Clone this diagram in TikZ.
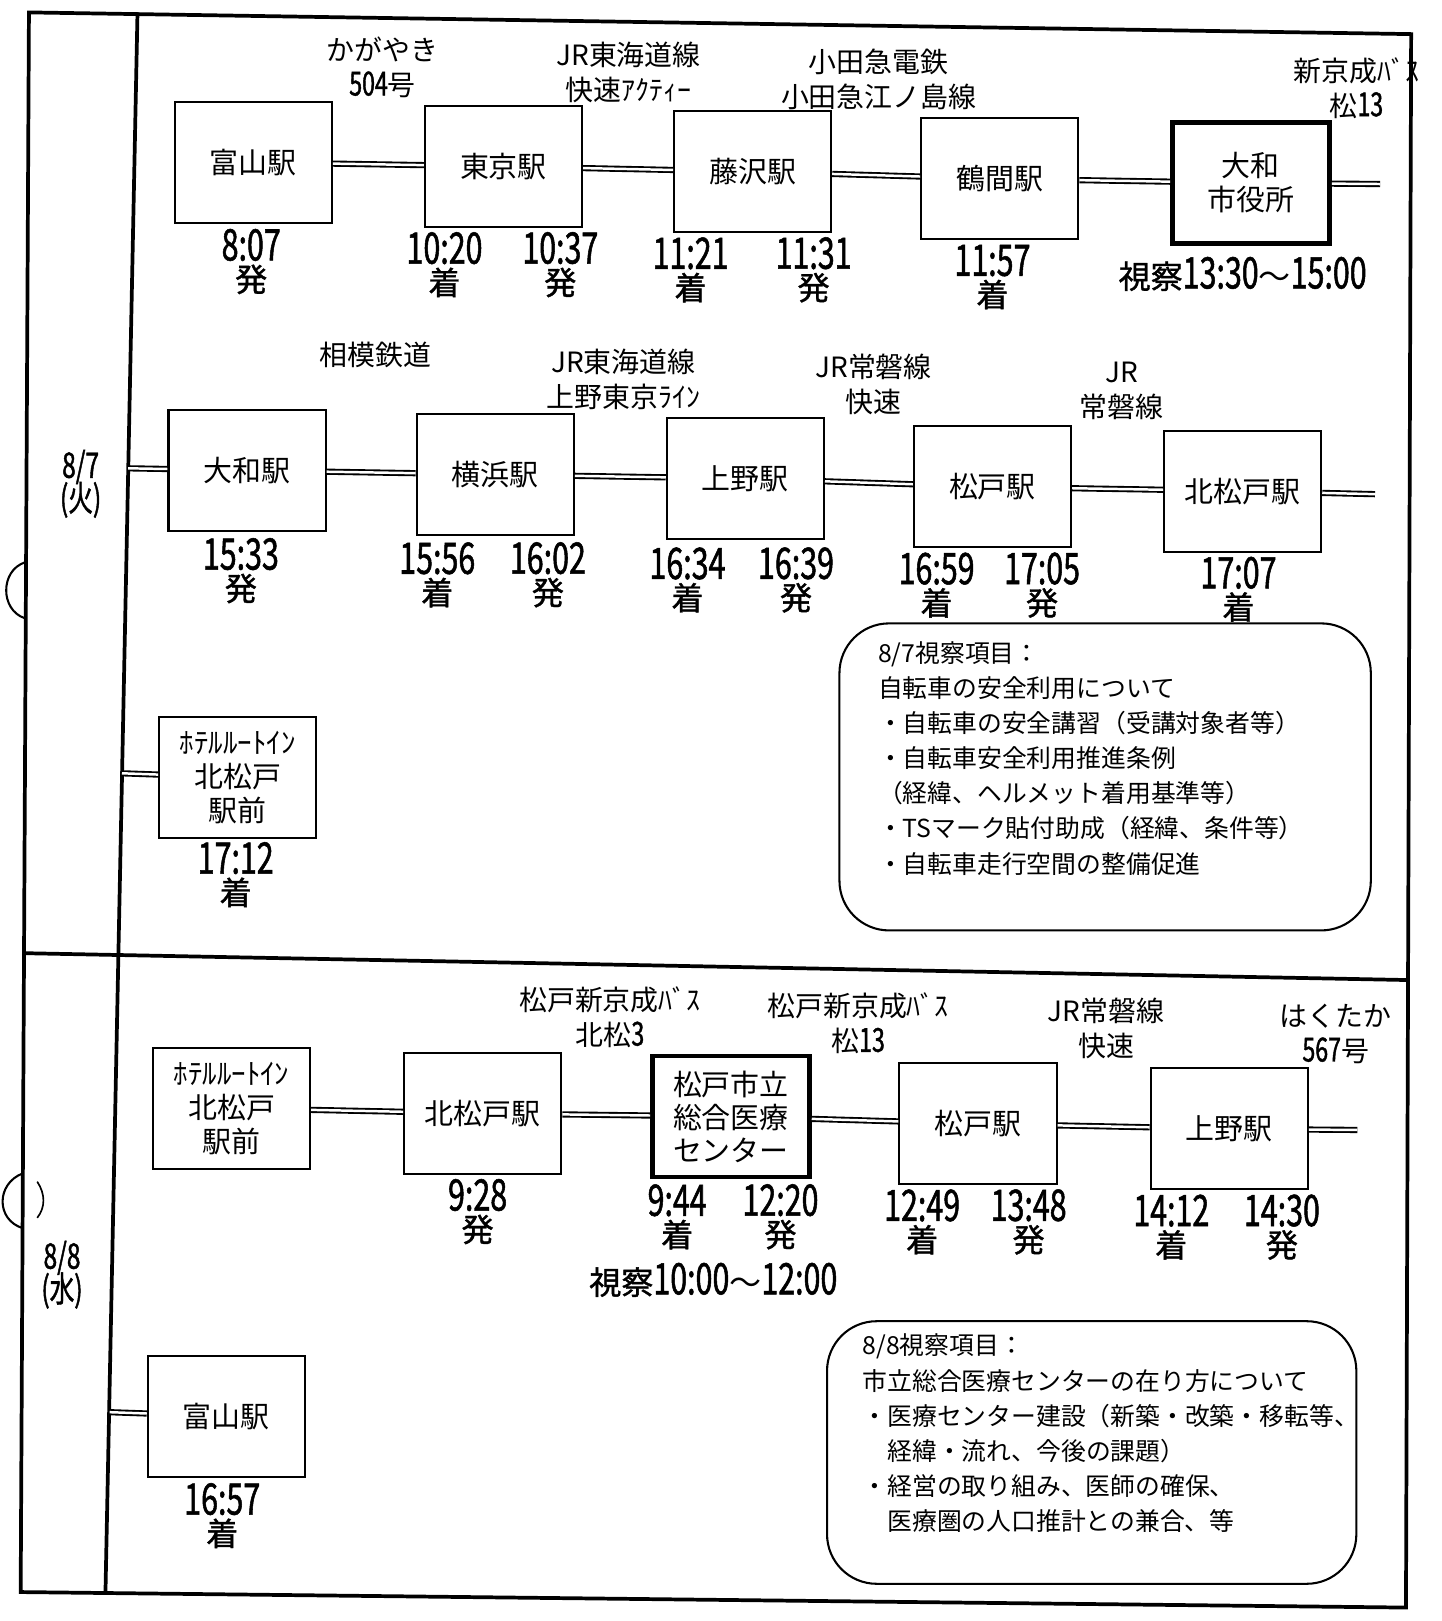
\documentclass[tikz,border=0pt]{standalone}
\usepackage{fontspec}
\setmainfont{Noto Sans CJK JP}
\newfontfamily\numfont[FakeStretch=0.7,FakeBold=1.2]{Noto Sans CJK JP}
\newfontfamily\kanfont[FakeBold=1.2]{Noto Sans CJK JP}
\newcommand\tnum{\numfont\fontsize{21}{21}\selectfont}
\newcommand\lnum{\numfont\fontsize{16}{16}\selectfont}
\newcommand\jikan[2]{{\tnum #1}\\{\kanfont #2}}
\lineskiplimit=-50pt

\begin{document}
\begin{tikzpicture}[x=0.5pt,y=-0.5pt,
    stn/.style={draw,line width=1pt,minimum width=76pt,minimum height=58.5pt,inner sep=0pt,align=center,font=\fontsize{14}{16.5}\selectfont},
    stnbold/.style={stn,line width=2.2pt},
    lnk/.style={double,line width=0.9pt,double distance=1.2pt},
    tm/.style={align=center,inner sep=0pt,font=\fontsize{15.5}{15}\selectfont},
    rte/.style={align=center,inner sep=0pt,font=\fontsize{13.5}{17}\selectfont},
    memo/.style={align=left,anchor=north west,inner sep=0pt,font=\fontsize{12}{17}\selectfont},
    daylbl/.style={align=center,inner sep=0pt,font=\numfont\fontsize{17}{16}\selectfont}]
    \useasboundingbox (0,0) rectangle (1394,1568);
    %% frame of the sheet
    \draw[line width=1.8pt] (28,12) -- (1365,33) -- (1360,1555) -- (20,1540) -- cycle;
    \draw[line width=1.8pt] (133,12) -- (102,1541);
    \draw[line width=1.8pt] (23,922) -- (1362,948);
    %% punch holes
    \draw[line width=1pt] (24,544) .. controls (0,552) and (0,590) .. (24,598);
    \draw[line width=1pt] (22,1135) .. controls (-4,1145) and (-4,1180) .. (22,1188);
    \draw[line width=0.8pt] (36,1143) .. controls (44,1155) and (44,1168) .. (36,1178);

    %% 8/7 first leg
    \node[stn] (toyama) at (245,157) {富山駅};
    \node[stn] (tokyo) at (487,161) {東京駅};
    \node[stn] (fujisawa) at (728,166) {藤沢駅};
    \node[stn] (tsuruma) at (967,173) {鶴間駅};
    \node[stnbold] (yamatocity) at (1210,177) {大和\\市役所};
    \coordinate (end1) at (1335,178);
    \draw[lnk] (toyama) -- (tokyo);
    \draw[lnk] (tokyo) -- (fujisawa);
    \draw[lnk] (fujisawa) -- (tsuruma);
    \draw[lnk] (tsuruma) -- (yamatocity);
    \draw[lnk] (yamatocity) -- (end1);
    \node[rte] (r11) at (370,65) {かがやき\\{\lnum 504}号};
    \node[rte] (r12) at (608,70) {JR東海道線\\快速ｱｸﾃｨｰ};
    \node[rte] (r13) at (850,77) {小田急電鉄\\小田急江ノ島線};
    \node[rte] (r14) at (1312,85) {新京成ﾊﾞｽ\\松{\lnum 13}};
    \node[tm] (t11) at (243,253) {\jikan{8:07}{発}};
    \node[tm] (t12) at (430,256) {\jikan{10:20}{着}};
    \node[tm] (t13) at (542,256) {\jikan{10:37}{発}};
    \node[tm] (t14) at (668,261) {\jikan{11:21}{着}};
    \node[tm] (t15) at (787,261) {\jikan{11:31}{発}};
    \node[tm] (t16) at (960,268) {\jikan{11:57}{着}};
    \node[tm] (v1) at (1202,265) {{\kanfont 視察}{\tnum 13:30}〜{\tnum 15:00}};

    %% 8/7 second leg
    \coordinate (start2) at (124,453);
    \node[stn] (yamato) at (239,455) {大和駅};
    \node[stn] (yokohama) at (479,459) {横浜駅};
    \node[stn] (ueno) at (721,463) {上野駅};
    \node[stn] (matsudo) at (960,471) {松戸駅};
    \node[stn] (kitamatsudo) at (1202,475) {北松戸駅};
    \coordinate (end2) at (1330,478);
    \draw[lnk] (start2) -- (yamato);
    \draw[lnk] (yamato) -- (yokohama);
    \draw[lnk] (yokohama) -- (ueno);
    \draw[lnk] (ueno) -- (matsudo);
    \draw[lnk] (matsudo) -- (kitamatsudo);
    \draw[lnk] (kitamatsudo) -- (end2);
    \node[rte] (r21) at (363,343) {相模鉄道};
    \node[rte] (r22) at (603,367) {JR東海道線\\上野東京ﾗｲﾝ};
    \node[rte] (r23) at (845,372) {JR常磐線\\快速};
    \node[rte] (r24) at (1085,378) {JR\\常磐線};
    \node[tm] (t21) at (233,552) {\jikan{15:33}{発}};
    \node[tm] (t22) at (423,556) {\jikan{15:56}{着}};
    \node[tm] (t23) at (530,556) {\jikan{16:02}{発}};
    \node[tm] (t24) at (665,561) {\jikan{16:34}{着}};
    \node[tm] (t25) at (770,561) {\jikan{16:39}{発}};
    \node[tm] (t26) at (906,566) {\jikan{16:59}{着}};
    \node[tm] (t27) at (1008,566) {\jikan{17:05}{発}};
    \node[tm] (t28) at (1198,570) {\jikan{17:07}{着}};
    \node[daylbl] (day1) at (78,468) {8/7\\(火)};

    %% 8/7 hotel
    \coordinate (start3) at (118,748);
    \node[stn] (hotel1) at (230,752) {ﾎﾃﾙﾙｰﾄｲﾝ\\北松戸\\駅前};
    \draw[lnk] (start3) -- (hotel1);
    \node[tm] (t31) at (228,846) {\jikan{17:12}{着}};
    \draw[line width=1pt,rounded corners=24pt] (812,603) rectangle (1326,900);
    \node[memo] (memo1) at (849,620) {8/7視察項目：\\
        自転車の安全利用について\\
        ・自転車の安全講習（受講対象者等）\\
        ・自転車安全利用推進条例\\
        （経緯、ヘルメット着用基準等）\\
        ・TSマーク貼付助成（経緯、条件等）\\
        ・自転車走行空間の整備促進};

    %% 8/8 first leg
    \node[stn] (hotel2) at (224,1072) {ﾎﾃﾙﾙｰﾄｲﾝ\\北松戸\\駅前};
    \node[stn] (kitamatsudo2) at (467,1077) {北松戸駅};
    \node[stnbold,font=\fontsize{14}{16}\selectfont] (hospital) at (707,1080) {松戸市立\\総合医療\\センター};
    \node[stn] (matsudo2) at (946,1087) {松戸駅};
    \node[stn] (ueno2) at (1189,1092) {上野駅};
    \coordinate (end4) at (1313,1093);
    \draw[lnk] (hotel2) -- (kitamatsudo2);
    \draw[lnk] (kitamatsudo2) -- (hospital);
    \draw[lnk] (hospital) -- (matsudo2);
    \draw[lnk] (matsudo2) -- (ueno2);
    \draw[lnk] (ueno2) -- (end4);
    \node[rte] (r41) at (590,984) {松戸新京成ﾊﾞｽ\\北松{\lnum 3}};
    \node[rte] (r42) at (830,990) {松戸新京成ﾊﾞｽ\\松{\lnum 13}};
    \node[rte] (r43) at (1070,995) {JR常磐線\\快速};
    \node[rte] (r44) at (1292,1000) {はくたか\\{\lnum 567}号};
    \node[tm] (t41) at (462,1172) {\jikan{9:28}{発}};
    \node[tm] (t42) at (655,1177) {\jikan{9:44}{着}};
    \node[tm] (t43) at (755,1177) {\jikan{12:20}{発}};
    \node[tm] (t44) at (892,1182) {\jikan{12:49}{着}};
    \node[tm] (t45) at (995,1182) {\jikan{13:48}{発}};
    \node[tm] (t46) at (1133,1187) {\jikan{14:12}{着}};
    \node[tm] (t47) at (1240,1187) {\jikan{14:30}{発}};
    \node[tm] (v2) at (690,1238) {{\kanfont 視察}{\tnum 10:00}〜{\tnum 12:00}};
    \node[daylbl] (day2) at (60,1233) {8/8\\(水)};

    %% 8/8 return
    \coordinate (start5) at (106,1366);
    \node[stn] (toyama2) at (219,1370) {富山駅};
    \draw[lnk] (start5) -- (toyama2);
    \node[tm] (t51) at (215,1466) {\jikan{16:57}{着}};
    \draw[line width=1pt,rounded corners=24pt] (800,1278) rectangle (1312,1532);
    \node[memo] (memo2) at (834,1290) {8/8視察項目：\\
        市立総合医療センターの在り方について\\
        ・医療センター建設（新築・改築・移転等、\\
        \hphantom{・}経緯・流れ、今後の課題）\\
        ・経営の取り組み、医師の確保、\\
        \hphantom{・}医療圏の人口推計との兼合、等};
\end{tikzpicture}
\end{document}
